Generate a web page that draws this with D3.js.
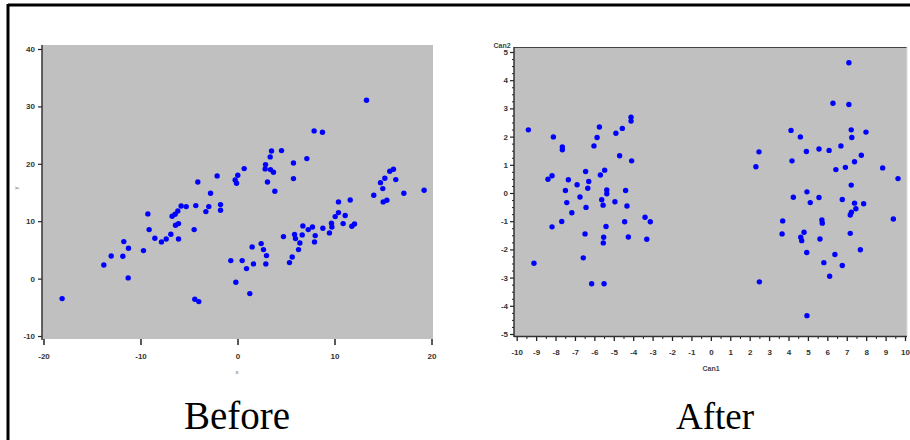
<!DOCTYPE html>
<html>
<head>
<meta charset="utf-8">
<script src="https://cdn.jsdelivr.net/npm/d3@7"></script>
<style>
  html, body { margin: 0; padding: 0; background: #fff; }
  svg { display: block; }
  .tick text { font-family: "Liberation Sans", Arial, sans-serif; font-size: 8px; font-weight: bold; fill: #333; }
</style>
</head>
<body>
<svg id="chart" width="910" height="440"></svg>
<script>
// ---------- Data ----------
const beforeX = [-18.08,-13.78,-13.02,-11.82,-11.72,-11.24,-11.27,-9.69,-9.24,-9.11,-8.52,-7.84,-7.35,-6.87,-6.74,-6.43,-6.39,-6.08,-6.15,-6.08,
  -5.81,-5.29,-4.47,-4.30,-4.09,-4.40,-3.99,-3.26,-2.96,-2.78,-2.10,-1.75,-1.75,-0.69,-0.24,-0.10,0.03,-0.17,0.48,0.69,
  0.93,1.27,1.51,1.65,2.44,2.68,2.85,2.89,2.99,2.92,3.09,3.37,3.40,3.51,3.71,3.85,4.54,4.74,5.36,5.64,
  5.77,5.77,5.88,5.98,6.29,6.43,6.67,6.74,7.15,7.29,7.73,7.90,7.94,8.01,8.76,8.80,9.48,9.69,9.73,10.07,
  10.41,10.41,10.89,11.10,11.62,11.79,12.06,13.30,14.05,14.74,14.98,15.02,15.19,15.40,15.70,16.08,16.32,17.15,19.24];
const beforeY = [-3.48,2.38,3.95,3.89,6.45,5.28,0.12,4.88,11.27,8.54,7.03,6.39,6.91,7.72,10.86,11.21,9.29,9.58,11.79,6.91,
  12.66,12.54,8.54,12.72,16.84,-3.60,-4.01,11.67,12.54,14.87,17.89,12.89,11.90,3.14,17.19,16.61,18.00,-0.64,3.14,19.16,
  1.74,-2.61,5.52,2.56,6.10,5.05,19.11,19.86,4.01,2.56,16.84,21.20,18.99,22.24,18.53,15.21,22.30,7.32,2.79,3.77,
  20.15,17.42,7.67,6.97,5.05,6.21,7.61,9.18,20.91,8.54,9.00,25.73,6.39,7.49,25.49,8.77,7.96,9.64,9.00,10.80,
  13.36,11.50,9.58,10.98,13.70,9.12,9.52,31.07,14.52,16.72,15.68,13.36,17.48,13.65,18.70,19.05,17.25,14.87,15.39];

const afterX = [-9.40,-9.11,-8.39,-8.18,-8.18,-8.11,-7.68,-7.65,-7.65,-7.49,-7.42,-7.34,-7.16,-6.89,-6.74,-6.57,-6.48,-6.45,-6.43,-6.34,
  -6.29,-6.14,-6.02,-5.86,-5.74,-5.69,-5.62,-5.55,-5.54,-5.52,-5.50,-5.47,-5.40,-5.36,-5.36,-4.94,-4.89,-4.70,-4.56,-4.44,
  -4.39,-4.32,-4.25,-4.11,-4.11,-4.08,-3.39,-3.30,-3.12,
  2.32,2.48,2.50,3.67,3.70,4.13,4.18,4.25,4.61,4.63,4.68,4.80,4.92,4.94,4.95,4.95,5.12,5.57,5.57,5.62,
  5.72,5.74,5.82,6.09,6.12,6.29,6.39,6.44,6.70,6.77,6.77,6.93,7.11,7.11,7.18,7.18,7.23,7.23,7.24,7.26,
  7.40,7.40,7.47,7.70,7.75,7.87,7.99,8.85,9.40,9.64];
const afterY = [2.24,-2.49,0.49,0.61,-1.20,1.99,-1.01,1.63,1.53,0.09,-0.34,0.47,-0.70,0.29,-0.14,-2.30,-1.45,0.76,-0.51,0.17,
  0.41,-3.22,1.67,1.97,2.34,0.64,-0.24,-0.43,-1.77,-1.57,-3.22,0.81,-1.19,0.11,-0.03,-0.31,2.12,1.32,2.29,-1.02,
  0.09,-0.46,-1.56,2.69,2.55,1.14,-0.86,-1.64,-1.02,
  0.93,1.46,-3.15,-1.45,-0.99,2.22,1.14,-0.15,1.99,-1.57,-1.69,-1.39,1.47,-2.11,0.04,-4.35,-0.34,1.56,-0.16,-1.63,
  -0.96,-1.07,-2.47,1.51,-2.95,3.18,-2.18,0.83,1.67,-0.23,-2.57,0.91,4.62,3.14,-1.43,-0.78,2.24,0.28,-0.68,1.97,
  1.11,-0.36,-0.56,-2.01,1.34,-0.38,2.16,0.89,-0.92,0.51];

const beforeXTicks = [-20, -10, 0, 10, 20];
const beforeYTicks = [-10, 0, 10, 20, 30, 40];
const afterXTicks = d3.range(-10, 11, 1);
const afterYTicks = d3.range(-5, 6, 1);

// ---------- Drawing ----------
const svg = d3.select("#chart");
const fmt = d => String(d);

// frame border (top and left)
svg.append("line").attr("x1", 8).attr("x2", 910).attr("y1", 5).attr("y2", 5)
  .attr("stroke", "#000").attr("stroke-width", 3);
svg.append("line").attr("x1", 8).attr("x2", 8).attr("y1", 4).attr("y2", 440)
  .attr("stroke", "#000").attr("stroke-width", 3);

// ---- Before panel ----
const xL = d3.scaleLinear().domain([-20, 20]).range([43.5, 431.5]);
const yL = d3.scaleLinear().domain([-10, 40]).range([336, 49]);

svg.append("rect").attr("x", 42).attr("y", 45).attr("width", 391).attr("height", 294).attr("fill", "#c0c0c0");

const gLx = svg.append("g").attr("transform", "translate(0,339)")
  .call(d3.axisBottom(xL).tickValues(beforeXTicks).tickFormat(fmt).tickSize(6).tickPadding(8));
gLx.select(".domain").remove();
gLx.selectAll(".tick line").attr("stroke", "#222").attr("stroke-width", 1.5);

const gLy = svg.append("g").attr("transform", "translate(42,0)")
  .call(d3.axisLeft(yL).tickValues(beforeYTicks).tickFormat(fmt).tickSize(4).tickPadding(3));
gLy.select(".domain").remove();
gLy.selectAll(".tick line").attr("stroke", "#222").attr("stroke-width", 1.2);
svg.append("line").attr("x1", 42).attr("x2", 42).attr("y1", 45).attr("y2", 340)
  .attr("stroke", "#333").attr("stroke-width", 1.5);

svg.append("text").attr("x", 237).attr("y", 374).attr("text-anchor", "middle")
  .attr("font-family", "Liberation Sans, Arial, sans-serif").attr("font-size", 6).attr("fill", "#666").text("x");
svg.append("text").attr("transform", "translate(18,188) rotate(-90)").attr("text-anchor", "middle")
  .attr("font-family", "Liberation Sans, Arial, sans-serif").attr("font-size", 6).attr("fill", "#666").text("y");

svg.append("g").selectAll("circle").data(beforeX).join("circle")
  .attr("cx", d => xL(d)).attr("cy", (d, i) => yL(beforeY[i]))
  .attr("r", 2.7).attr("fill", "#0000ff");

// ---- After panel ----
const xR = d3.scaleLinear().domain([-10, 10]).range([516.7, 905]);
const yR = d3.scaleLinear().domain([-5, 5]).range([334, 52]);

svg.append("rect").attr("x", 514).attr("y", 47).attr("width", 393).attr("height", 289)
  .attr("fill", "#c0c0c0");
svg.append("line").attr("x1", 514).attr("x2", 907).attr("y1", 47.5).attr("y2", 47.5)
  .attr("stroke", "#444").attr("stroke-width", 1.2);
svg.append("line").attr("x1", 907).attr("x2", 907).attr("y1", 47).attr("y2", 336)
  .attr("stroke", "#ddd").attr("stroke-width", 1);

// minor ticks
const gRxMinor = svg.append("g").attr("transform", "translate(0,336)")
  .call(d3.axisBottom(xR).tickValues(d3.range(-9.5, 10, 1)).tickFormat("").tickSize(3));
gRxMinor.select(".domain").remove();
gRxMinor.selectAll(".tick line").attr("stroke", "#222");
const gRyMinor = svg.append("g").attr("transform", "translate(514,0)")
  .call(d3.axisLeft(yR).tickValues(d3.range(-5, 5, 0.25).filter(v => v % 1 !== 0)).tickFormat("").tickSize(2));
gRyMinor.select(".domain").remove();
gRyMinor.selectAll(".tick line").attr("stroke", "#222");

const gRx = svg.append("g").attr("transform", "translate(0,336)")
  .call(d3.axisBottom(xR).tickValues(afterXTicks).tickFormat(fmt).tickSize(5).tickPadding(8));
gRx.select(".domain").remove();
gRx.selectAll(".tick line").attr("stroke", "#222").attr("stroke-width", 1.3);

const gRy = svg.append("g").attr("transform", "translate(514,0)")
  .call(d3.axisLeft(yR).tickValues(afterYTicks).tickFormat(fmt).tickSize(4).tickPadding(2));
gRy.select(".domain").remove();
gRy.selectAll(".tick line").attr("stroke", "#222").attr("stroke-width", 1.2);

svg.append("line").attr("x1", 514).attr("x2", 514).attr("y1", 47).attr("y2", 337)
  .attr("stroke", "#333").attr("stroke-width", 1.5);
svg.append("line").attr("x1", 514).attr("x2", 907).attr("y1", 336.5).attr("y2", 336.5)
  .attr("stroke", "#333").attr("stroke-width", 1.5);

svg.append("text").attr("x", 711).attr("y", 371).attr("text-anchor", "middle")
  .attr("font-family", "Liberation Sans, Arial, sans-serif").attr("font-size", 7).attr("font-weight", "bold").attr("fill", "#444").text("Can1");
svg.append("text").attr("x", 502).attr("y", 48).attr("text-anchor", "middle")
  .attr("font-family", "Liberation Sans, Arial, sans-serif").attr("font-size", 7).attr("font-weight", "bold").attr("fill", "#444").text("Can2");

svg.append("g").selectAll("circle").data(afterX).join("circle")
  .attr("cx", d => xR(d)).attr("cy", (d, i) => yR(afterY[i]))
  .attr("r", 2.7).attr("fill", "#0000ff");

// ---- Captions ----
svg.append("text").attr("x", 237).attr("y", 429).attr("text-anchor", "middle")
  .attr("font-family", "Liberation Serif, Times New Roman, serif").attr("font-size", 39).attr("fill", "#000").text("Before");
svg.append("text").attr("x", 715).attr("y", 429).attr("text-anchor", "middle")
  .attr("font-family", "Liberation Serif, Times New Roman, serif").attr("font-size", 37).attr("fill", "#000").text("After");
</script>
</body>
</html>
